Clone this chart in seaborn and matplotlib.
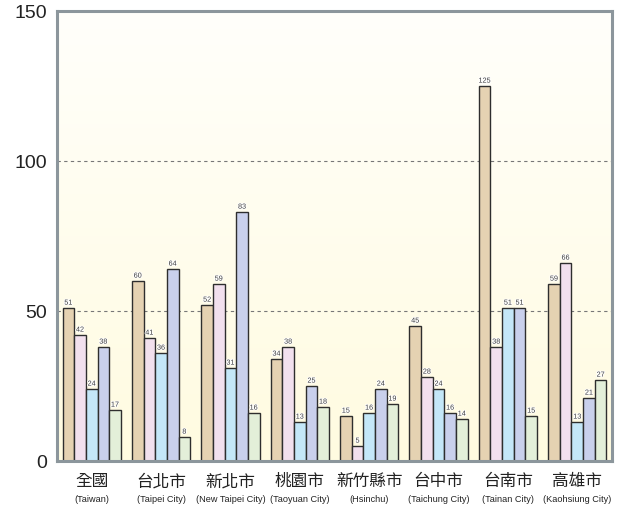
import matplotlib
matplotlib.use("Agg")
import matplotlib.pyplot as plt
import matplotlib.patheffects as pe
from matplotlib.colors import LinearSegmentedColormap
import seaborn as sns
import numpy as np
import pandas as pd

regions_zh = ["全國", "台北市", "新北市", "桃園市", "新竹縣市", "台中市", "台南市", "高雄市"]
regions_en = ["(Taiwan)", "(Taipei City)", "(New Taipei City)", "(Taoyuan City)",
              "(Hsinchu)", "(Taichung City)", "(Tainan City)", "(Kaohsiung City)"]
series_names = ["S1", "S2", "S3", "S4", "S5"]
s1 = [51, 60, 52, 34, 15, 45, 125, 59]
s2 = [42, 41, 59, 38, 5, 28, 38, 66]
s3 = [24, 36, 31, 13, 16, 24, 51, 13]
s4 = [38, 64, 83, 25, 24, 16, 51, 21]
s5 = [17, 8, 16, 18, 19, 14, 15, 27]
yticks = [0, 50, 100, 150]

colors = ["#e5d2b2", "#f2e0ee", "#c4e7f8", "#c9d0ec", "#e3efd9"]

rows = []
for name, vals in zip(series_names, [s1, s2, s3, s4, s5]):
    for r, v in zip(regions_zh, vals):
        rows.append({"region": r, "series": name, "value": v})
df = pd.DataFrame(rows)

sns.set_style("white")
plt.rcParams['font.family'] = ['Noto Sans CJK TC', 'DejaVu Sans']

fig = plt.figure(figsize=(6.2, 5.06), dpi=100)
ax = fig.add_axes([57/620, 44/506, 555/620, 450/506])

# background gradient
grad = np.linspace(0, 1, 256).reshape(-1, 1)
cmap = LinearSegmentedColormap.from_list("bg", ["#fffbe0", "#fffffb"])
ax.imshow(grad, extent=[-0.5, 7.5, 0, 150], origin="lower", aspect="auto",
          cmap=cmap, zorder=0)

sns.barplot(data=df, x="region", y="value", hue="series", palette=colors,
            saturation=1, width=0.84, edgecolor="#2e2e2e", linewidth=1.0, ax=ax,
            legend=False, zorder=3)

for container in ax.containers:
    labels = ax.bar_label(container, fmt="%d", fontsize=5.2, color="#3a3a3a",
                          padding=1, family=['Liberation Sans', 'DejaVu Sans'])
    for t in labels:
        t.set_path_effects([pe.withStroke(linewidth=1.2, foreground="white")])
        t.set_zorder(5)

ax.set_xlim(-0.5, 7.5)
ax.set_ylim(0, 150)
for y in [50, 100]:
    ax.axhline(y, color="#777777", linestyle=(0, (3, 3)), linewidth=0.8, zorder=2)

ax.set_yticks(yticks)
ax.set_yticklabels([str(v) for v in yticks], fontsize=14,
                   family=['Liberation Sans', 'DejaVu Sans'], color="#222222")
ax.tick_params(axis='y', length=0, pad=7)
for lbl in ax.get_yticklabels():
    lbl.set_va("center_baseline")
ax.set_xticks(range(len(regions_zh)))
ax.set_xticklabels(regions_zh, fontsize=12, color="#222222")
ax.tick_params(axis='x', length=0, pad=8)
for i, en in enumerate(regions_en):
    ax.text(i, -0.084, en, transform=ax.get_xaxis_transform(),
            ha="center", va="center", fontsize=6.6, color="#222222",
            family=['Liberation Sans Narrow', 'Liberation Sans', 'DejaVu Sans'])
ax.set_xlabel("")
ax.set_ylabel("")

for sp in ax.spines.values():
    sp.set_color("#8c969c")
    sp.set_linewidth(2.2)
    sp.set_zorder(6)

fig.savefig("out.png", dpi=100, facecolor="white")
